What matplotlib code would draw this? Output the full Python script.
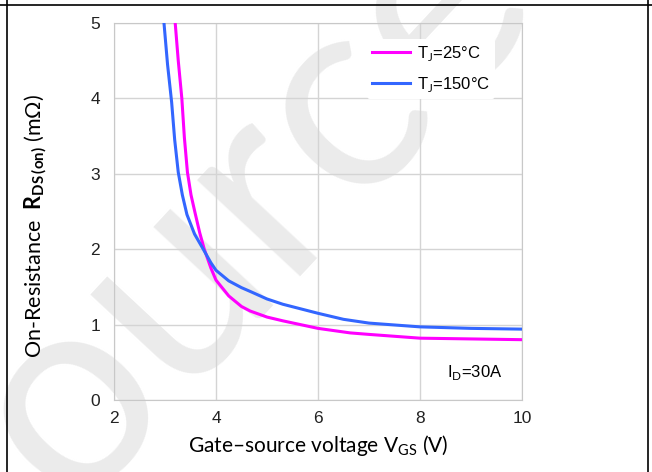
import numpy as np
import matplotlib.pyplot as plt
from matplotlib.lines import Line2D

## Data
vgs_25 = [3.20, 3.26, 3.33, 3.38, 3.44, 3.51, 3.59, 3.68, 3.77, 3.90, 4.00, 4.25, 4.50, 4.67, 5.00, 5.31, 6.00, 6.63, 7.00, 8.00, 9.00, 10.00]
rds_25 = [5.00, 4.50, 4.00, 3.48, 3.02, 2.72, 2.48, 2.22, 2.00, 1.75, 1.59, 1.38, 1.24, 1.18, 1.10, 1.05, 0.95, 0.89, 0.87, 0.82, 0.81, 0.80]

vgs_150 = [2.98, 3.05, 3.13, 3.19, 3.26, 3.34, 3.43, 3.58, 3.75, 3.90, 4.00, 4.25, 4.50, 4.67, 5.00, 5.31, 6.00, 6.50, 7.00, 8.00, 9.00, 10.00]
rds_150 = [5.00, 4.45, 3.95, 3.45, 3.02, 2.72, 2.46, 2.20, 2.00, 1.82, 1.72, 1.58, 1.49, 1.44, 1.34, 1.27, 1.15, 1.07, 1.02, 0.97, 0.95, 0.94]

x_ticks = [2, 4, 6, 8, 10]
y_ticks = [0, 1, 2, 3, 4, 5]

plt.rcParams['mathtext.fontset'] = 'custom'
plt.rcParams['mathtext.rm'] = 'Lato'
plt.rcParams['mathtext.bf'] = 'Lato:bold'

fig = plt.figure(figsize=(6.52, 4.72), dpi=100)
ax = fig.add_axes([114 / 652, 72 / 472, 408 / 652, 377 / 472])

# faint watermark behind everything
fig.text(200 / 652, 1 - 260 / 472, "Source", rotation=47, fontsize=200, color='#ebebeb',
         family='Lato', ha='center', va='center', zorder=-1)
ax.set_facecolor('none')

ax.plot(vgs_25, rds_25, color='#ff00ff', lw=2.2, label=r'T$_\mathrm{J}$=25°C', zorder=3)
ax.plot(vgs_150, rds_150, color='#3366ff', lw=2.2, label=r'T$_\mathrm{J}$=150°C', zorder=3)

ax.set_xlim(2, 10)
ax.set_ylim(0, 5)
ax.set_xticks(x_ticks)
ax.set_yticks(y_ticks)
ax.grid(True, color='#d4d4d4', lw=1.0)
ax.set_axisbelow(True)
for s in ax.spines.values():
    s.set_color('#c8c8c8')
ax.tick_params(length=0, labelsize=12.5, colors='#222222')
ax.tick_params(axis='x', pad=8)
ax.tick_params(axis='y', pad=10)
for lab in ax.get_xticklabels() + ax.get_yticklabels():
    lab.set_family('Liberation Sans')

ax.set_xlabel(r'Gate–source voltage V$_{\mathrm{GS}}$ (V)', family='Lato', fontsize=15, labelpad=5)
fig.text(36 / 652, 1 - 226 / 472,
         r'On-Resistance  $\mathbf{R_{DS\,(on)}}$ (mΩ)',
         family='Lato', fontsize=15.5, rotation=90, ha='center', va='center')

leg = ax.legend(loc='upper right', bbox_to_anchor=(0.955, 0.98), frameon=True,
                prop={'family': 'Liberation Sans', 'size': 12},
                handlelength=2.3, handletextpad=0.4, labelspacing=0.7, borderpad=0.3)
leg.get_frame().set_facecolor('white')
leg.get_frame().set_edgecolor('none')
leg.get_frame().set_alpha(1)

ax.text(0.885, 0.072, r'I$_\mathrm{D}$=30A', transform=ax.transAxes, ha='center', va='center',
        family='Liberation Sans', fontsize=12,
        bbox=dict(facecolor='white', edgecolor='none', pad=8))

# outer table-cell frame
fig.add_artist(Line2D([0, 1], [1 - 5 / 472, 1 - 5 / 472], color='black', lw=1.2))
fig.add_artist(Line2D([7 / 652, 7 / 652], [0, 1], color='black', lw=1.2))
fig.add_artist(Line2D([648 / 652, 648 / 652], [0, 1], color='black', lw=1.2))

fig.savefig('out.png', dpi=100)
